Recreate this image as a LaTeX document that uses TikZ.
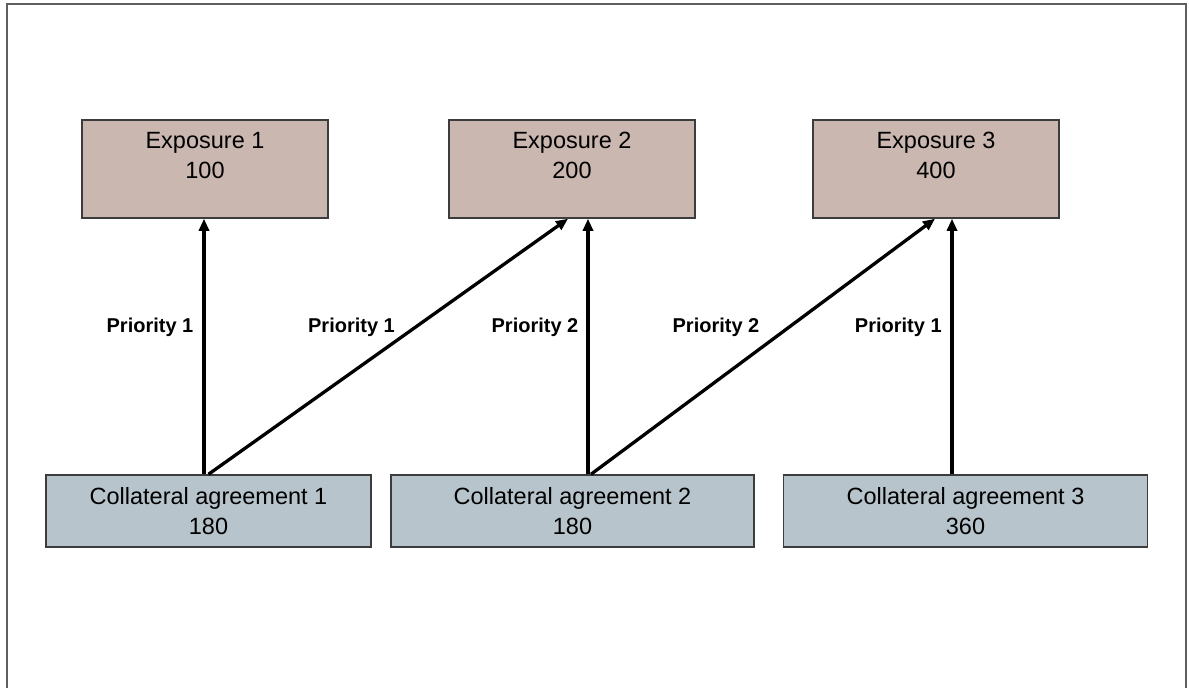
\documentclass[tikz,border=0pt]{standalone}
\usepackage{fontspec}
\setmainfont{Liberation Sans}
\usetikzlibrary{arrows.meta}
\definecolor{expfill}{RGB}{201,183,176}
\definecolor{cafill}{RGB}{183,196,204}
\definecolor{boxline}{RGB}{60,60,60}
\definecolor{framegray}{RGB}{95,95,95}
\tikzset{
  expbox/.style={draw=boxline, line width=1.5pt, fill=expfill, minimum width=246pt, minimum height=98pt, inner sep=0pt},
  cabox/.style={draw=boxline, line width=1.5pt, fill=cafill, minimum height=72pt, inner sep=0pt, align=center, font=\fontsize{23.5}{30}\selectfont},
  etext/.style={anchor=north, inner sep=0pt, align=center, font=\fontsize{23.5}{30}\selectfont},
  prio/.style={inner sep=0pt, font=\fontsize{20}{24}\selectfont\bfseries},
  arr/.style={line width=3.3pt, -{Triangle[length=12pt,width=10pt]}},
}
\begin{document}
\begin{tikzpicture}[x=1pt,y=-1pt]
\useasboundingbox (0,0) rectangle (1189,688);
\draw[framegray, line width=2pt] (6.5,690) -- (6.5,3.5) -- (1186,3.5) -- (1186,690);
% exposure boxes
\node[expbox] (e1) at (205,169) {};
\node[expbox] (e2) at (572,169) {};
\node[expbox] (e3) at (936,169) {};
\node[etext] (e1t) at (205,131.7) {Exposure 1\\100};
\node[etext] (e2t) at (572,131.7) {Exposure 2\\200};
\node[etext] (e3t) at (936,131.7) {Exposure 3\\400};
% collateral boxes
\node[cabox, minimum width=325pt] (c1) at (208.5,511) {Collateral agreement 1\\180};
\node[cabox, minimum width=363pt] (c2) at (572.5,511) {Collateral agreement 2\\180};
\node[cabox, minimum width=364pt] (c3) at (965.5,511) {Collateral agreement 3\\360};
% arrows
\draw[arr] ([xshift=-4.5pt]c1.north) -- ([xshift=-1pt]e1.south);
\draw[arr] (c1.north) -- ([xshift=-4pt]e2.south);
\draw[arr] ([xshift=15.5pt]c2.north) -- ([xshift=16pt]e2.south);
\draw[arr] ([xshift=18.5pt]c2.north) -- ([xshift=-1pt]e3.south);
\draw[arr] ([xshift=-13.5pt]c3.north) -- ([xshift=16pt]e3.south);
% labels
\node[prio] (p1) at (150,327) {Priority 1};
\node[prio] (p2) at (351.5,327) {Priority 1};
\node[prio] (p3) at (535,327) {Priority 2};
\node[prio] (p4) at (716,327) {Priority 2};
\node[prio] (p5) at (898.3,327) {Priority 1};
\end{tikzpicture}
\end{document}
